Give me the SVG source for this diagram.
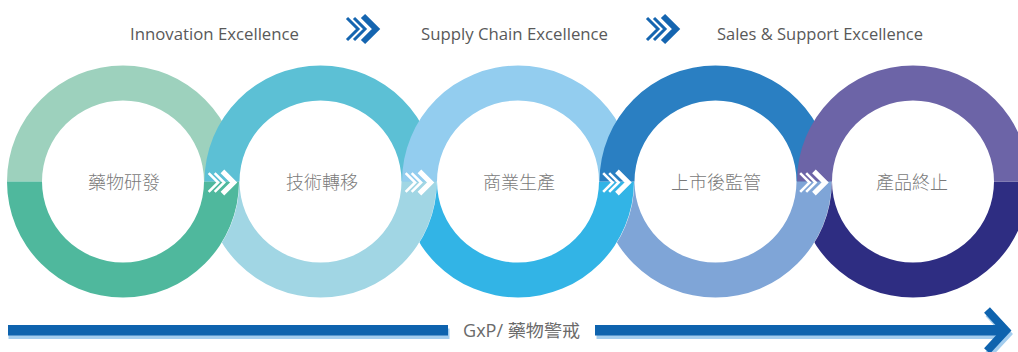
<svg xmlns="http://www.w3.org/2000/svg" width="1018" height="352" viewBox="0 0 1018 352">
<style>
.hd{font-family:"Open Sans","Liberation Sans",sans-serif;font-size:17px;fill:#595959;text-anchor:middle}
.lbl{font-family:"Noto Sans CJK TC","Noto Sans CJK SC",sans-serif;font-size:18px;font-weight:300;fill:#7a7a7a;text-anchor:middle}
.gxp{font-family:"Open Sans","Noto Sans CJK TC",sans-serif;font-size:17.5px;fill:#6a6a6a}
.thin{fill:none;stroke-width:3;stroke-linejoin:miter;stroke-miterlimit:10}
.thick{fill:none;stroke-width:6;stroke-linejoin:miter;stroke-miterlimit:10}
</style>
<defs>
<g id="chev">
<polyline class="thin" points="-15.5,-11 -4.5,0 -15.5,11"/>
<polyline class="thin" points="-8.5,-11 2.5,0 -8.5,11"/>
<polyline class="thick" points="0.5,-13 13.5,0 0.5,13"/>
</g>
<mask id="m1" maskUnits="userSpaceOnUse" x="0" y="0" width="1018" height="352"><rect width="1018" height="352" fill="#fff"/><circle cx="123" cy="181.5" r="116.3" fill="#000"/></mask>
<mask id="m2" maskUnits="userSpaceOnUse" x="0" y="0" width="1018" height="352"><rect width="1018" height="352" fill="#fff"/><circle cx="320.5" cy="181.5" r="116.3" fill="#000"/></mask>
<mask id="m3" maskUnits="userSpaceOnUse" x="0" y="0" width="1018" height="352"><rect width="1018" height="352" fill="#fff"/><circle cx="518" cy="181.5" r="116.3" fill="#000"/></mask>
<mask id="m4" maskUnits="userSpaceOnUse" x="0" y="0" width="1018" height="352"><rect width="1018" height="352" fill="#fff"/><circle cx="715.5" cy="181.5" r="116.3" fill="#000"/></mask>
</defs>
<rect width="1018" height="352" fill="#fff"/>

<g id="headings">
<text class="hd" x="214.5" y="40" textLength="169" lengthAdjust="spacingAndGlyphs">Innovation Excellence</text>
<text class="hd" x="514.5" y="40" textLength="187" lengthAdjust="spacingAndGlyphs">Supply Chain Excellence</text>
<text class="hd" x="820" y="40" textLength="206" lengthAdjust="spacingAndGlyphs">Sales &amp; Support Excellence</text>
</g>

<g id="node1">
<path d="M7,181.5 A116,116 0 0 1 239,181.5 L204,181.5 A81,81 0 0 0 42,181.5 Z" fill="#9dd1bd"/>
<path d="M7,181.5 A116,116 0 0 0 239,181.5 L204,181.5 A81,81 0 0 1 42,181.5 Z" fill="#4fb89d"/>
<text class="lbl" x="124" y="189">藥物研發</text>
</g>
<g id="node2">
<path d="M204.5,181.5 A116,116 0 0 0 436.5,181.5 L401.5,181.5 A81,81 0 0 1 239.5,181.5 Z" fill="#a1d6e4" mask="url(#m1)"/>
<path d="M204.5,181.5 A116,116 0 0 1 436.5,181.5 L401.5,181.5 A81,81 0 0 0 239.5,181.5 Z" fill="#5cc0d5"/>
<text class="lbl" x="322" y="189">技術轉移</text>
</g>
<g id="node3">
<path d="M402,181.5 A116,116 0 0 0 634,181.5 L599,181.5 A81,81 0 0 1 437,181.5 Z" fill="#32b4e6" mask="url(#m2)"/>
<path d="M402,181.5 A116,116 0 0 1 634,181.5 L599,181.5 A81,81 0 0 0 437,181.5 Z" fill="#93cdef"/>
<text class="lbl" x="519" y="189">商業生產</text>
</g>
<g id="node4">
<path d="M599.5,181.5 A116,116 0 0 0 831.5,181.5 L796.5,181.5 A81,81 0 0 1 634.5,181.5 Z" fill="#7fa5d7" mask="url(#m3)"/>
<path d="M599.5,181.5 A116,116 0 0 1 831.5,181.5 L796.5,181.5 A81,81 0 0 0 634.5,181.5 Z" fill="#2a7fc2"/>
<text class="lbl" x="716" y="189">上市後監管</text>
</g>
<g id="node5">
<path d="M797,181.5 A116,116 0 0 0 1029,181.5 L994,181.5 A81,81 0 0 1 832,181.5 Z" fill="#2e2d82" mask="url(#m4)"/>
<path d="M797,181.5 A116,116 0 0 1 1029,181.5 L994,181.5 A81,81 0 0 0 832,181.5 Z" fill="#6c64a7"/>
<text class="lbl" x="912" y="189">產品終止</text>
</g>

<g id="connectors">
<use href="#chev" transform="translate(362.5,29)" stroke="#1565b0"/>
<use href="#chev" transform="translate(662.5,29)" stroke="#1565b0"/>
<use href="#chev" transform="translate(222,182.5) scale(0.86)" stroke="#fff"/>
<use href="#chev" transform="translate(419,182.5) scale(0.86)" stroke="#fff"/>
<use href="#chev" transform="translate(616.5,182.5) scale(0.86)" stroke="#fff"/>
<use href="#chev" transform="translate(813.5,182.5) scale(0.86)" stroke="#fff"/>
</g>

<g id="gxp-arrow">
<g transform="translate(1.5,3.5)" fill="#a3cdee" stroke="#a3cdee">
<rect x="7" y="325" width="441" height="10.5" stroke="none"/>
<rect x="595" y="325" width="408" height="10.5" stroke="none"/>
<polyline points="987,310 1006,330.5 987,351" fill="none" stroke-width="8"/>
</g>
<g fill="#0e63ae" stroke="#0e63ae">
<rect x="8" y="325" width="440" height="10.5" stroke="none"/>
<rect x="595" y="325" width="408" height="10.5" stroke="none"/>
<polyline points="987,310 1006,330.5 987,351" fill="none" stroke-width="8"/>
</g>
<text class="gxp" x="463" y="337" textLength="117" lengthAdjust="spacingAndGlyphs">GxP/ 藥物警戒</text>
</g>
</svg>
